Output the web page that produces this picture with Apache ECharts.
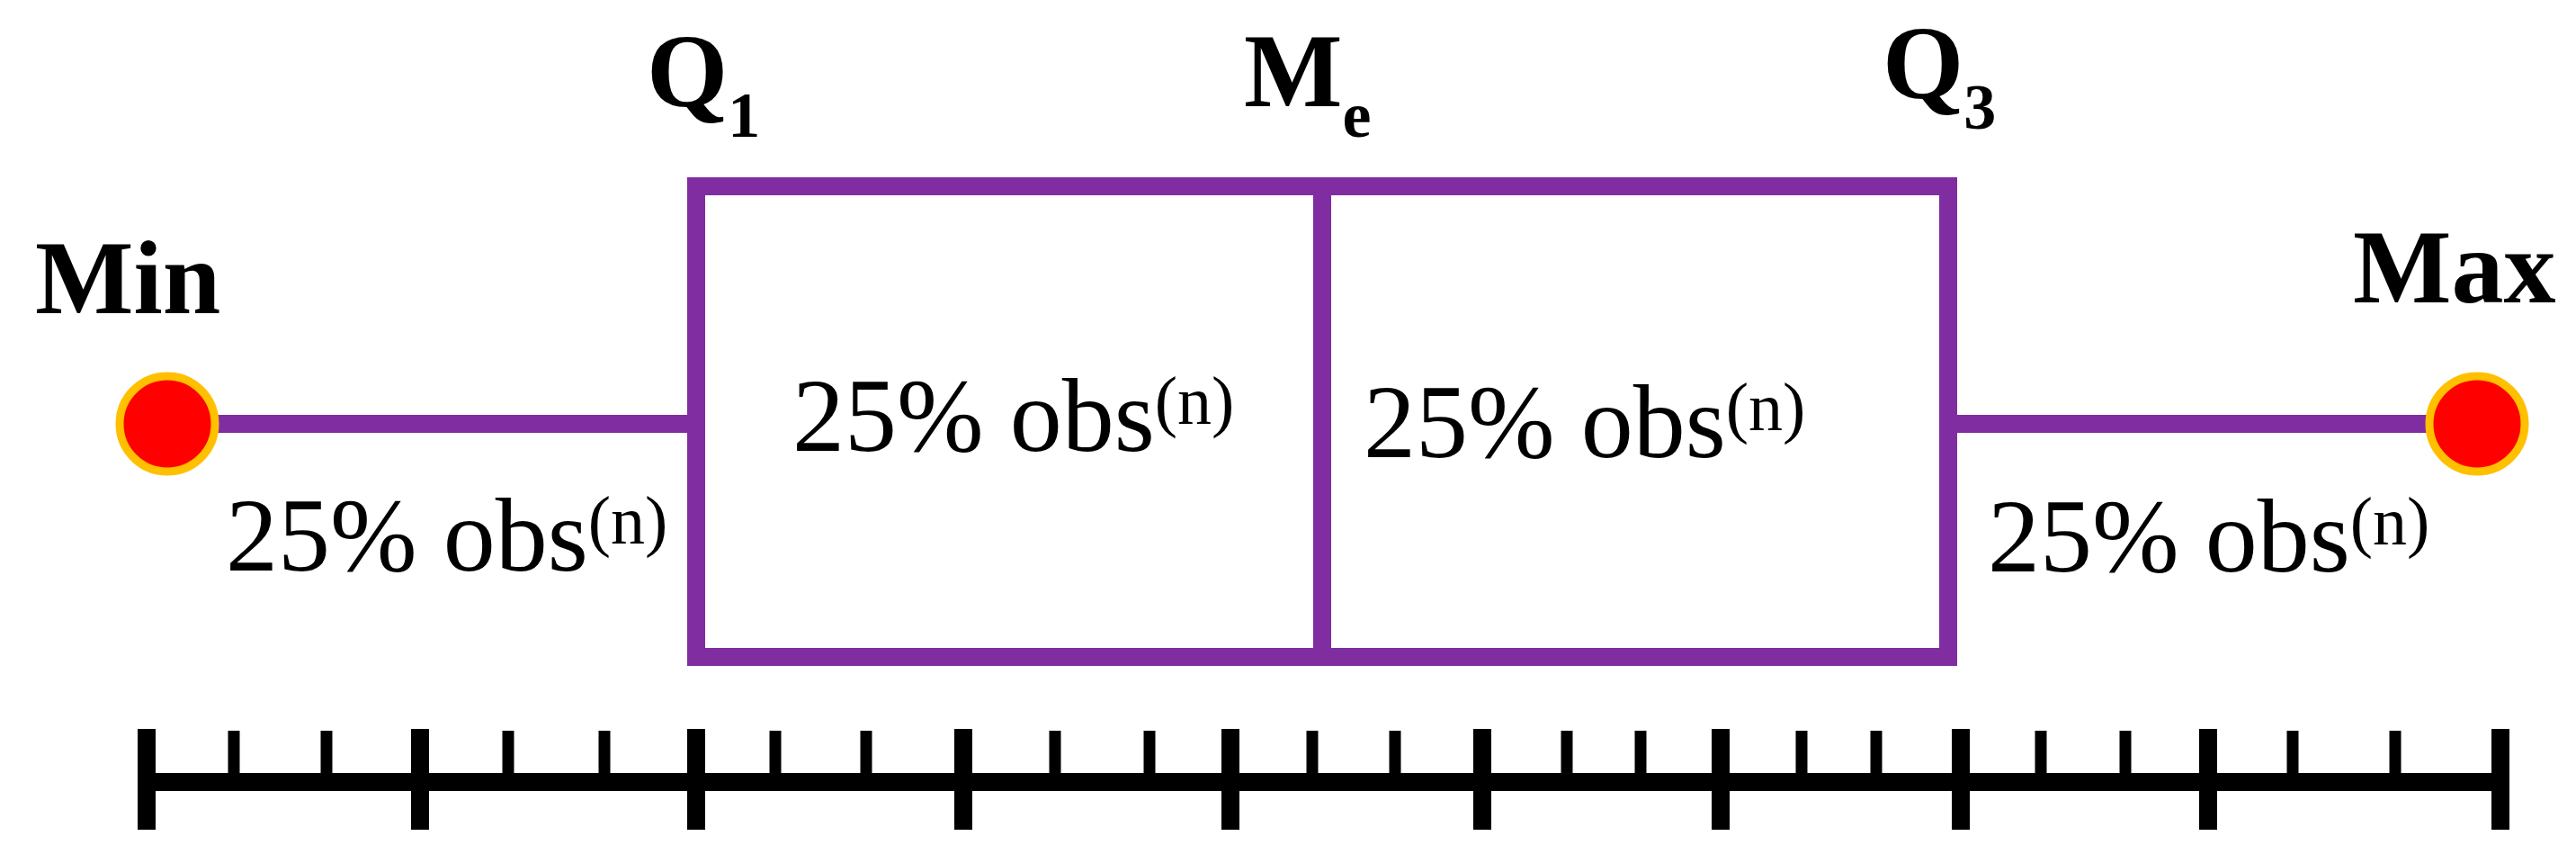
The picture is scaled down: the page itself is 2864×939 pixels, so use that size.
<!DOCTYPE html>
<html>
<head>
<meta charset="utf-8">
<title>Box plot</title>
<script src="https://cdn.jsdelivr.net/npm/echarts@6/dist/echarts.min.js"></script>
<style>
html, body { margin: 0; padding: 0; background: #fff; overflow: hidden; }
#chart { width: 2864px; height: 939px; }
</style>
</head>
<body>
<div id="chart"></div>
<script>
// five-number summary, in units of the (hidden) horizontal axis
var statNames = ['Min', 'Q1', 'Me', 'Q3', 'Max'];
var statValues = [186, 774, 1470, 2166, 2754];

// label over each statistic: main part + subscript
var statLabelMain = ['Min', 'Q', 'M', 'Q', 'Max'];
var statLabelSub = ['', '1', 'e', '3', ''];

// share of observations in each of the four parts
var shareText = ['25% obs', '25% obs', '25% obs', '25% obs'];
var shareSup = ['(n)', '(n)', '(n)', '(n)'];

// ruler under the plot
var majorTicks = [163, 467, 774, 1071, 1368, 1648, 1913, 2180, 2455, 2780];
var minorTicks = [260, 363, 565, 672, 862, 963, 1173, 1278, 1459, 1551, 1742, 1824, 2003, 2086, 2269, 2363, 2549, 2663];

// layout (vertical axis units run top -> bottom)
var BOX_TOP = 207, BOX_BOTTOM = 730, WHISKER_Y = 471;
var RULER_Y = 869, MAJOR_UP = 810, MAJOR_DOWN = 922, MINOR_UP = 812;
// [dx from statistic, baseline]
var statLabelPlace = [[-147, 355], [-55, 125], [-87, 125], [-73, 116], [-138, 343]];
// [dx from start of segment, baseline]
var shareLabelPlace = [[65, 641], [107, 508], [46, 515], [44, 642]];

var PURPLE = '#7F2DA0';
var SERIF = '"Liberation Serif", "Times New Roman", serif';
var FS = 116;
var BASE_SHIFT = 95; // top of text block -> baseline

function lineStyle(w, color) {
    return { stroke: color || PURPLE, lineWidth: w, fill: null, lineCap: 'butt', lineJoin: 'miter' };
}

function renderBox(params, api) {
    var pMin = api.coord([api.value(0), WHISKER_Y]);
    var pQ1 = api.coord([api.value(1), BOX_TOP]);
    var pMe = api.coord([api.value(2), BOX_TOP]);
    var pQ3 = api.coord([api.value(3), BOX_BOTTOM]);
    var pMax = api.coord([api.value(4), WHISKER_Y]);
    return {
        type: 'group',
        children: [
            { type: 'line', shape: { x1: pMin[0], y1: pMin[1], x2: pQ1[0], y2: pMin[1] }, style: lineStyle(20) },
            { type: 'line', shape: { x1: pQ3[0], y1: pMax[1], x2: pMax[0], y2: pMax[1] }, style: lineStyle(20) },
            { type: 'rect', shape: { x: pQ1[0], y: pQ1[1], width: pQ3[0] - pQ1[0], height: pQ3[1] - pQ1[1] }, style: lineStyle(20) },
            { type: 'line', shape: { x1: pMe[0], y1: pQ1[1], x2: pMe[0], y2: pQ3[1] }, style: lineStyle(20) }
        ]
    };
}

function renderTick(params, api) {
    var major = api.value(1) === 1;
    var top = api.coord([api.value(0), major ? MAJOR_UP : MINOR_UP]);
    var bottom = api.coord([api.value(0), major ? MAJOR_DOWN : RULER_Y]);
    return {
        type: 'line',
        shape: { x1: top[0], y1: top[1], x2: bottom[0], y2: bottom[1] },
        style: lineStyle(major ? 20 : 13, '#000')
    };
}

// token placement: 'top' centres a token at lineTop + fontHeight / 2,
// 'bottom' at lineTop + lineHeight - fontHeight / 2
var richBold = { fontFamily: SERIF, fontSize: FS, fontWeight: 'bold', fill: '#000', lineHeight: FS, verticalAlign: 'top' };
var richSub = { fontFamily: SERIF, fontSize: 72, fontWeight: 'bold', fill: '#000', lineHeight: 139, verticalAlign: 'bottom' };
var richNormal = { fontFamily: SERIF, fontSize: FS, fill: '#000', lineHeight: FS, verticalAlign: 'bottom' };
var richSup = { fontFamily: SERIF, fontSize: 76, fill: '#000', lineHeight: 80, verticalAlign: 'top' };

function renderStatLabel(params, api) {
    var i = params.dataIndex;
    var place = statLabelPlace[i];
    var x = api.coord([api.value(0), place[1]]);
    var text = '{m|' + statLabelMain[i] + '}' + (statLabelSub[i] ? '{s|' + statLabelSub[i] + '}' : '');
    return {
        type: 'text',
        x: x[0] + place[0],
        y: x[1] - BASE_SHIFT,
        style: {
            text: text,
            align: 'left',
            verticalAlign: 'top',
            fontFamily: SERIF,
            fontSize: FS,
            rich: { m: richBold, s: richSub }
        }
    };
}

function renderShareLabel(params, api) {
    var i = params.dataIndex;
    var place = shareLabelPlace[i];
    var x = api.coord([api.value(0), place[1]]);
    return {
        type: 'text',
        x: x[0] + place[0],
        y: x[1] - BASE_SHIFT,
        style: {
            text: '{m|' + shareText[i] + '}{p|' + shareSup[i] + '}',
            align: 'left',
            verticalAlign: 'top',
            fontFamily: SERIF,
            fontSize: FS,
            rich: { m: richNormal, p: richSup }
        }
    };
}

var chart = echarts.init(document.getElementById('chart'));

var tickData = majorTicks.map(function (v) { return [v, 1]; })
    .concat(minorTicks.map(function (v) { return [v, 0]; }));

var option = {
    animation: false,
    backgroundColor: '#fff',
    grid: { left: 0, right: 0, top: 0, bottom: 0 },
    xAxis: { type: 'value', min: 0, max: 2864, show: false },
    yAxis: { type: 'value', min: 0, max: 939, inverse: true, show: false },
    series: [
        {
            name: 'ruler',
            type: 'line',
            data: [[majorTicks[0], RULER_Y], [majorTicks[majorTicks.length - 1], RULER_Y]],
            symbol: 'none',
            lineStyle: { color: '#000', width: 20, cap: 'square' },
            z: 1
        },
        {
            name: 'ticks',
            type: 'custom',
            data: tickData,
            renderItem: renderTick,
            z: 1
        },
        {
            name: 'box',
            type: 'custom',
            data: [statValues],
            renderItem: renderBox,
            z: 2
        },
        {
            name: 'extremes',
            type: 'scatter',
            data: [[statValues[0], WHISKER_Y], [statValues[4], WHISKER_Y]],
            symbol: 'circle',
            symbolSize: 106,
            itemStyle: { color: '#FF0000', borderColor: '#FFC000', borderWidth: 9, opacity: 1 },
            z: 3
        },
        {
            name: 'statLabels',
            type: 'custom',
            data: statValues.map(function (v, i) { return [v, i]; }),
            renderItem: renderStatLabel,
            z: 4
        },
        {
            name: 'shareLabels',
            type: 'custom',
            data: statValues.slice(0, 4).map(function (v, i) { return [v, i]; }),
            renderItem: renderShareLabel,
            z: 4
        }
    ]
};

chart.setOption(option);
</script>
</body>
</html>
